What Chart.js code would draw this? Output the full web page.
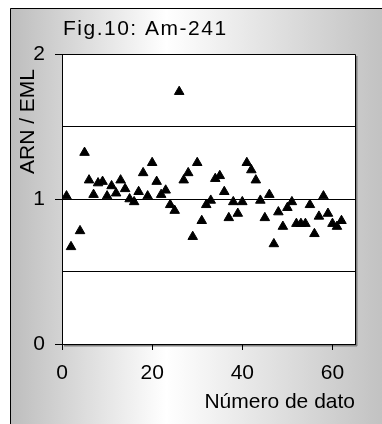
<!DOCTYPE html>
<html>
<head>
<meta charset="utf-8">
<script src="https://cdn.jsdelivr.net/npm/chart.js@4"></script>
<style>
  html, body { margin: 0; padding: 0; background: #fff; }
</style>
</head>
<body>
<canvas id="chart" width="382" height="424"></canvas>
<script>
'use strict';

// data (point number vs ARN/EML ratio)
const dataNumbers = [1, 2, 4, 5, 6, 7, 8, 9, 10, 11, 12, 13, 14, 15, 16, 17, 18, 19, 20, 21,
    22, 23, 24, 25, 26, 27, 28, 29, 30, 31, 32, 33, 34, 35, 36, 37, 38, 39, 40, 41,
    42, 43, 44, 45, 46, 47, 48, 49, 50, 51, 52, 53, 54, 55, 56, 57, 58, 59, 60, 61, 62];
const ratios = [1.02, 0.67, 0.78, 1.32, 1.13, 1.03, 1.11, 1.12, 1.02, 1.09, 1.04, 1.13, 1.07, 1.00, 0.98, 1.05, 1.18, 1.02, 1.25, 1.12,
    1.03, 1.06, 0.96, 0.92, 1.74, 1.13, 1.18, 0.74, 1.25, 0.85, 0.96, 0.99, 1.14, 1.16, 1.05, 0.87, 0.98, 0.90, 0.98, 1.25,
    1.20, 1.13, 0.99, 0.87, 1.03, 0.69, 0.91, 0.81, 0.94, 0.98, 0.83, 0.83, 0.83, 0.96, 0.76, 0.88, 1.02, 0.90, 0.83, 0.81, 0.85];

const titleText = 'Fig.10: Am-241';
const yLabel = 'ARN / EML';
const xLabel = 'Número de dato';
const yTickLabels = [0, 1, 2];
const FONT = '"Liberation Sans", Arial, sans-serif';

const points = dataNumbers.map((n, i) => ({ x: n, y: ratios[i] }));

// grey-white-grey backdrop, framed plot area, title and y label
const frame = {
    id: 'frame',
    beforeDraw(chart) {
        const { ctx, width, height, chartArea: a } = chart;
        ctx.save();
        const g = ctx.createLinearGradient(10, 0, width, 0);
        g.addColorStop(0, '#bdbdbd');
        g.addColorStop(0.42, '#ffffff');
        g.addColorStop(1, '#c2c2c2');
        ctx.fillStyle = g;
        ctx.fillRect(10, 8, width - 10, height - 8);
        ctx.strokeStyle = '#000';
        ctx.lineWidth = 1;
        ctx.beginPath();
        ctx.moveTo(10.5, height);
        ctx.lineTo(10.5, 8.5);
        ctx.lineTo(width, 8.5);
        ctx.stroke();
        ctx.fillStyle = '#808080';
        ctx.fillRect(a.right + 1, a.top + 2, 1.5, a.height);
        ctx.fillRect(a.left + 2, a.bottom + 1, a.width, 1.5);
        ctx.fillStyle = '#fff';
        ctx.fillRect(a.left, a.top, a.width, a.height);
        ctx.restore();
    },
    afterDatasetsDraw(chart) {
        const { ctx, chartArea: a } = chart;
        ctx.save();
        ctx.strokeStyle = '#000';
        ctx.lineWidth = 1;
        ctx.beginPath();
        ctx.moveTo(a.left, a.top + 0.5);
        ctx.lineTo(a.right + 0.5, a.top + 0.5);
        ctx.lineTo(a.right + 0.5, a.bottom);
        ctx.stroke();
        ctx.restore();
    },
    afterDraw(chart) {
        const { ctx, chartArea: a } = chart;
        ctx.save();
        ctx.fillStyle = '#000';
        ctx.letterSpacing = '1.5px';
        ctx.font = '21px ' + FONT;
        ctx.textAlign = 'left';
        ctx.textBaseline = 'alphabetic';
        ctx.fillText(titleText, a.left + 1, 35);

        ctx.letterSpacing = '0px';
        ctx.font = '21px ' + FONT;
        ctx.translate(28.5, a.top + 15);
        ctx.rotate(-Math.PI / 2);
        ctx.textAlign = 'right';
        ctx.textBaseline = 'middle';
        ctx.fillText(yLabel, 0, 0);
        ctx.restore();
    }
};

new Chart(document.getElementById('chart'), {
    type: 'scatter',
    data: {
        datasets: [{
            data: points,
            pointStyle: 'triangle',
            pointRadius: 5.5,
            backgroundColor: '#000',
            borderColor: '#000',
            borderWidth: 1
        }]
    },
    options: {
        responsive: false,
        devicePixelRatio: 1,
        animation: false,
        layout: { padding: { left: 0, right: 27, top: 54, bottom: 0 } },
        plugins: {
            legend: { display: false },
            tooltip: { enabled: false },
            title: { display: false }
        },
        scales: {
            x: {
                type: 'linear',
                min: 0,
                max: 65,
                afterFit(scale) { scale.height = 80; },
                ticks: {
                    stepSize: 20,
                    includeBounds: false,
                    maxRotation: 0,
                    padding: 11,
                    color: '#000',
                    font: { family: FONT, size: 21 }
                },
                grid: { drawOnChartArea: false, tickLength: 6, color: '#000' },
                border: { color: '#000' },
                title: {
                    display: true,
                    text: xLabel,
                    align: 'end',
                    color: '#000',
                    font: { family: FONT, size: 21 },
                    padding: { top: 0, bottom: 9 }
                }
            },
            y: {
                min: 0,
                max: 2,
                afterFit(scale) { scale.width = 62; },
                ticks: {
                    stepSize: 0.5,
                    padding: 10,
                    color: '#000',
                    font: { family: FONT, size: 21 },
                    callback: v => yTickLabels.includes(v) ? String(v) : ''
                },
                grid: {
                    color: '#000',
                    tickLength: 7,
                    tickColor: c => yTickLabels.includes(c.tick.value) ? '#000' : 'rgba(0,0,0,0)'
                },
                border: { color: '#000' }
            }
        }
    },
    plugins: [frame]
});
</script>
</body>
</html>
